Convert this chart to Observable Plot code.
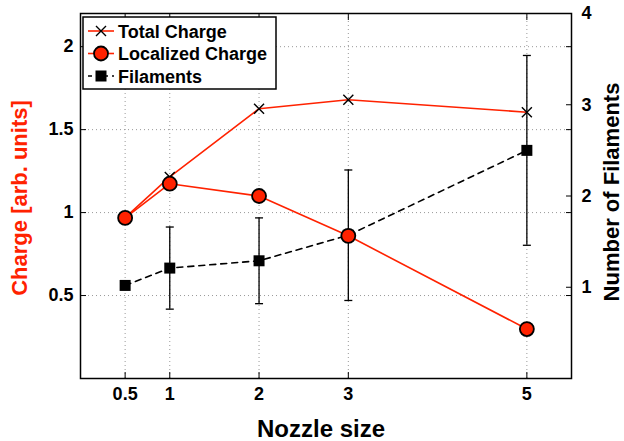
<!DOCTYPE html>
<html>
<head>
<meta charset="utf-8">
<script src="https://cdn.jsdelivr.net/npm/d3@7"></script>
<script src="https://cdn.jsdelivr.net/npm/@observablehq/plot@0.6"></script>
<style>
  html, body { margin: 0; padding: 0; background: #fff; }
  #chart { position: relative; width: 624px; height: 441px; }
  svg { font-family: "Liberation Sans", Arial, sans-serif; }
</style>
</head>
<body>
<div id="chart"></div>
<script>
// ---- data ----
const nozzle = [0.5, 1, 2, 3, 5];
const totalCharge = [0.97, 1.215, 1.626, 1.68, 1.605];
const localizedCharge = [0.968, 1.174, 1.10, 0.86, 0.298];
const filaments = [1.02, 1.21, 1.29, 1.57, 2.5];
const filamentErr = [0, 0.45, 0.47, 0.715, 1.04];
const xTicks = [0.5, 1, 2, 3, 5];
const chargeTicks = [0.5, 1, 1.5, 2];
const filamentTicks = [1, 2, 3, 4];
const chargeMax = 2.2;
const filamentMax = 4;

const RED = "#ff2200";
const k = chargeMax / filamentMax; // filaments -> charge scale
const rows = nozzle.map((x, i) => ({
  x, total: totalCharge[i], loc: localizedCharge[i],
  fil: filaments[i] * k,
  lo: (filaments[i] - filamentErr[i]) * k,
  hi: (filaments[i] + filamentErr[i]) * k,
  err: filamentErr[i]
}));
const errRows = rows.filter(d => d.err > 0);
const cap = { draw(ctx) { ctx.moveTo(-4, 0); ctx.lineTo(4, 0); } };
const cross = { draw(ctx) { ctx.moveTo(-5, -5); ctx.lineTo(5, 5); ctx.moveTo(-5, 5); ctx.lineTo(5, -5); } };
const square = { draw(ctx) { ctx.rect(-5.5, -5.5, 11, 11); } };

const font = { fontSize: 18, fontWeight: "bold", fill: "black" };

const plot = Plot.plot({
  width: 624,
  height: 441,
  marginLeft: 80,
  marginRight: 53,
  marginTop: 13,
  marginBottom: 63,
  x: { domain: [0, 5.5] },
  y: { domain: [0, chargeMax] },
  style: { fontFamily: "Liberation Sans, Arial, sans-serif", overflow: "visible" },
  marks: [
    Plot.gridX(xTicks, { stroke: "#999", strokeOpacity: 1, strokeDasharray: "1,3" }),
    Plot.gridY(chargeTicks, { stroke: "#999", strokeOpacity: 1, strokeDasharray: "1,3" }),
    // axes: labels
    Plot.axisX(xTicks, { tickSize: 0, tickPadding: 9, tickFormat: d => String(d), ...font, label: null }),
    Plot.axisX(xTicks, { tickSize: -6, tickFormat: () => "", label: null, strokeWidth: 1 }),
    Plot.axisX(xTicks, { anchor: "top", tickSize: -6, tickFormat: () => "", label: null, strokeWidth: 1 }),
    Plot.axisY(chargeTicks, { tickSize: 0, tickPadding: 7, tickFormat: d => String(d), ...font, label: null }),
    Plot.axisY(chargeTicks, { tickSize: -6, tickFormat: () => "", label: null }),
    Plot.axisY(chargeTicks, { anchor: "right", tickSize: -6, tickFormat: () => "", label: null }),
    Plot.axisY(filamentTicks.map(f => f * k), { anchor: "right", tickSize: 0, tickPadding: 10, tickFormat: d => String(Math.round(d / k)), ...font, label: null }),
    Plot.axisY(filamentTicks.map(f => f * k), { anchor: "right", tickSize: -6, tickFormat: () => "", label: null }),
    Plot.frame({ stroke: "black", strokeWidth: 1.5 }),
    // error bars
    Plot.ruleX(errRows, { x: "x", y1: "lo", y2: "hi", stroke: "black", strokeWidth: 1.3 }),
    Plot.dot(errRows, { x: "x", y: "lo", symbol: cap, stroke: "black", strokeWidth: 1.3, r: 4 }),
    Plot.dot(errRows, { x: "x", y: "hi", symbol: cap, stroke: "black", strokeWidth: 1.3, r: 4 }),
    // filaments
    Plot.line(rows, { x: "x", y: "fil", stroke: "black", strokeWidth: 1.6, strokeDasharray: "6,5" }),
    Plot.dot(rows, { x: "x", y: "fil", symbol: square, fill: "black", stroke: "none", r: 5 }),
    // total charge
    Plot.line(rows, { x: "x", y: "total", stroke: RED, strokeWidth: 1.6 }),
    Plot.dot(rows, { x: "x", y: "total", symbol: cross, stroke: "black", strokeWidth: 1.4, r: 5 }),
    // localized charge
    Plot.line(rows, { x: "x", y: "loc", stroke: RED, strokeWidth: 1.6 }),
    Plot.dot(rows, { x: "x", y: "loc", r: 7, fill: RED, stroke: "black", strokeWidth: 1.8 })
  ]
});
document.getElementById("chart").appendChild(plot);

// axis titles and legend (drawn into the same svg)
const svg = d3.select(plot);
svg.append("text").attr("transform", "translate(27,198) rotate(-90)")
  .attr("text-anchor", "middle").attr("font-size", 22).attr("font-weight", "bold")
  .attr("fill", RED).text("Charge [arb. units]");
svg.append("text").attr("transform", "translate(619,192) rotate(-90)")
  .attr("text-anchor", "middle").attr("font-size", 22).attr("font-weight", "bold")
  .attr("fill", "black").text("Number of Filaments");
svg.append("text").attr("x", 321).attr("y", 437)
  .attr("text-anchor", "middle").attr("font-size", 24).attr("font-weight", "bold")
  .attr("fill", "black").text("Nozzle size");

const lg = svg.append("g").attr("transform", "translate(83,17)");
lg.append("rect").attr("width", 193).attr("height", 72).attr("fill", "white")
  .attr("stroke", "black").attr("stroke-width", 1.5);
const legendItems = [
  { label: "Total Charge", line: RED, dash: null, sym: "cross" },
  { label: "Localized Charge", line: RED, dash: null, sym: "circle" },
  { label: "Filaments", line: "black", dash: "4,4", sym: "square" }
];
legendItems.forEach((it, i) => {
  const y = 14 + i * 22.5;
  const g = lg.append("g").attr("transform", `translate(0,${y})`);
  g.append("line").attr("x1", 5).attr("x2", 31).attr("stroke", it.line)
    .attr("stroke-width", 1.6).attr("stroke-dasharray", it.dash);
  if (it.sym === "cross") {
    g.append("path").attr("d", "M13,-5L23,5M13,5L23,-5").attr("stroke", "black").attr("stroke-width", 1.4);
  } else if (it.sym === "circle") {
    g.append("circle").attr("cx", 18).attr("r", 7).attr("fill", RED).attr("stroke", "black").attr("stroke-width", 1.8);
  } else {
    g.append("rect").attr("x", 12.5).attr("y", -5.5).attr("width", 11).attr("height", 11).attr("fill", "black");
  }
  g.append("text").attr("x", 35).attr("y", 6.5).attr("text-anchor", "start")
    .attr("font-size", 18).attr("font-weight", "bold")
    .attr("fill", "black").text(it.label);
});
</script>
</body>
</html>
